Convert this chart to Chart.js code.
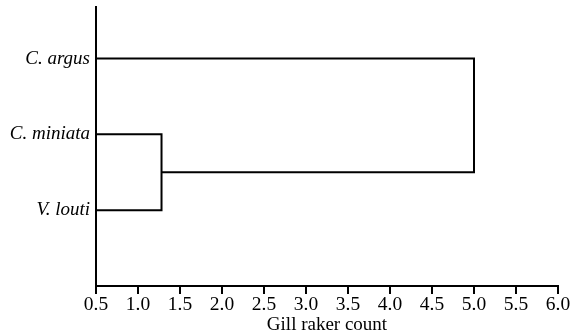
<!DOCTYPE html>
<html>
<head>
<meta charset="utf-8">
<script src="https://cdn.jsdelivr.net/npm/chart.js@4"></script>
<style>
  html, body { margin: 0; padding: 0; background: #fff; }
  canvas { display: block; }
</style>
</head>
<body>
<canvas id="dendro" width="570" height="335"></canvas>
<script>
// species, top to bottom, and their row on the y scale
const species = ['C. argus', 'C. miniata', 'V. louti'];
const rows = [3, 2, 1];
// merge heights (gill raker count) : miniata+louti, then with argus
const mergeAt = [1.28, 5.0];
const xTicks = [0.5, 1.0, 1.5, 2.0, 2.5, 3.0, 3.5, 4.0, 4.5, 5.0, 5.5, 6.0];

const x0 = xTicks[0];
const midRow = (rows[1] + rows[2]) / 2;

// inner cluster: C. miniata + V. louti
const inner = [
  {x: x0, y: rows[1]}, {x: mergeAt[0], y: rows[1]},
  {x: mergeAt[0], y: rows[2]}, {x: x0, y: rows[2]}
];
// outer cluster: joins inner cluster with C. argus
const outer = [
  {x: mergeAt[0], y: midRow}, {x: mergeAt[1], y: midRow},
  {x: mergeAt[1], y: rows[0]}, {x: x0, y: rows[0]}
];

const serif = "'Liberation Serif', 'Times New Roman', serif";
const lineDs = pts => ({data: pts, showLine: true, borderColor: '#000', borderWidth: 2,
  pointRadius: 0, fill: false, tension: 0});

new Chart(document.getElementById('dendro'), {
  type: 'scatter',
  data: {datasets: [lineDs(inner), lineDs(outer)]},
  options: {
    responsive: false,
    animation: false,
    layout: {padding: {top: 7, right: 0, bottom: 0, left: 0}},
    plugins: {legend: {display: false}, tooltip: {enabled: false}},
    scales: {
      x: {
        type: 'linear', min: 0.5, max: 6.0,
        afterBuildTicks: s => { s.ticks = xTicks.map(v => ({value: v})); },
        afterFit: s => { s.paddingRight = 12; },
        border: {display: true, color: '#000', width: 2},
        grid: {display: true, drawOnChartArea: false, drawTicks: true, tickLength: 8, color: '#000', lineWidth: 2},
        ticks: {color: '#000', font: {family: serif, size: 19.5, lineHeight: 1.1}, padding: 0,
          maxRotation: 0, autoSkip: false, callback: v => v.toFixed(1)},
        title: {display: true, text: 'Gill raker count', color: '#000',
          font: {family: serif, size: 19, lineHeight: 1.03}, padding: {top: 0, bottom: 0}}
      },
      y: {
        type: 'linear', min: 0, max: 3.68,
        afterBuildTicks: s => { s.ticks = rows.map(v => ({value: v})); },
        afterFit: s => { s.width = 96; s.paddingTop = 0; s.paddingBottom = 0; },
        border: {display: true, color: '#000', width: 2},
        grid: {display: false, drawTicks: false},
        ticks: {color: '#000', font: {family: serif, size: 19, style: 'italic'}, padding: 6,
          autoSkip: false, callback: v => species[rows.indexOf(v)]}
      }
    }
  }
});
</script>
</body>
</html>
